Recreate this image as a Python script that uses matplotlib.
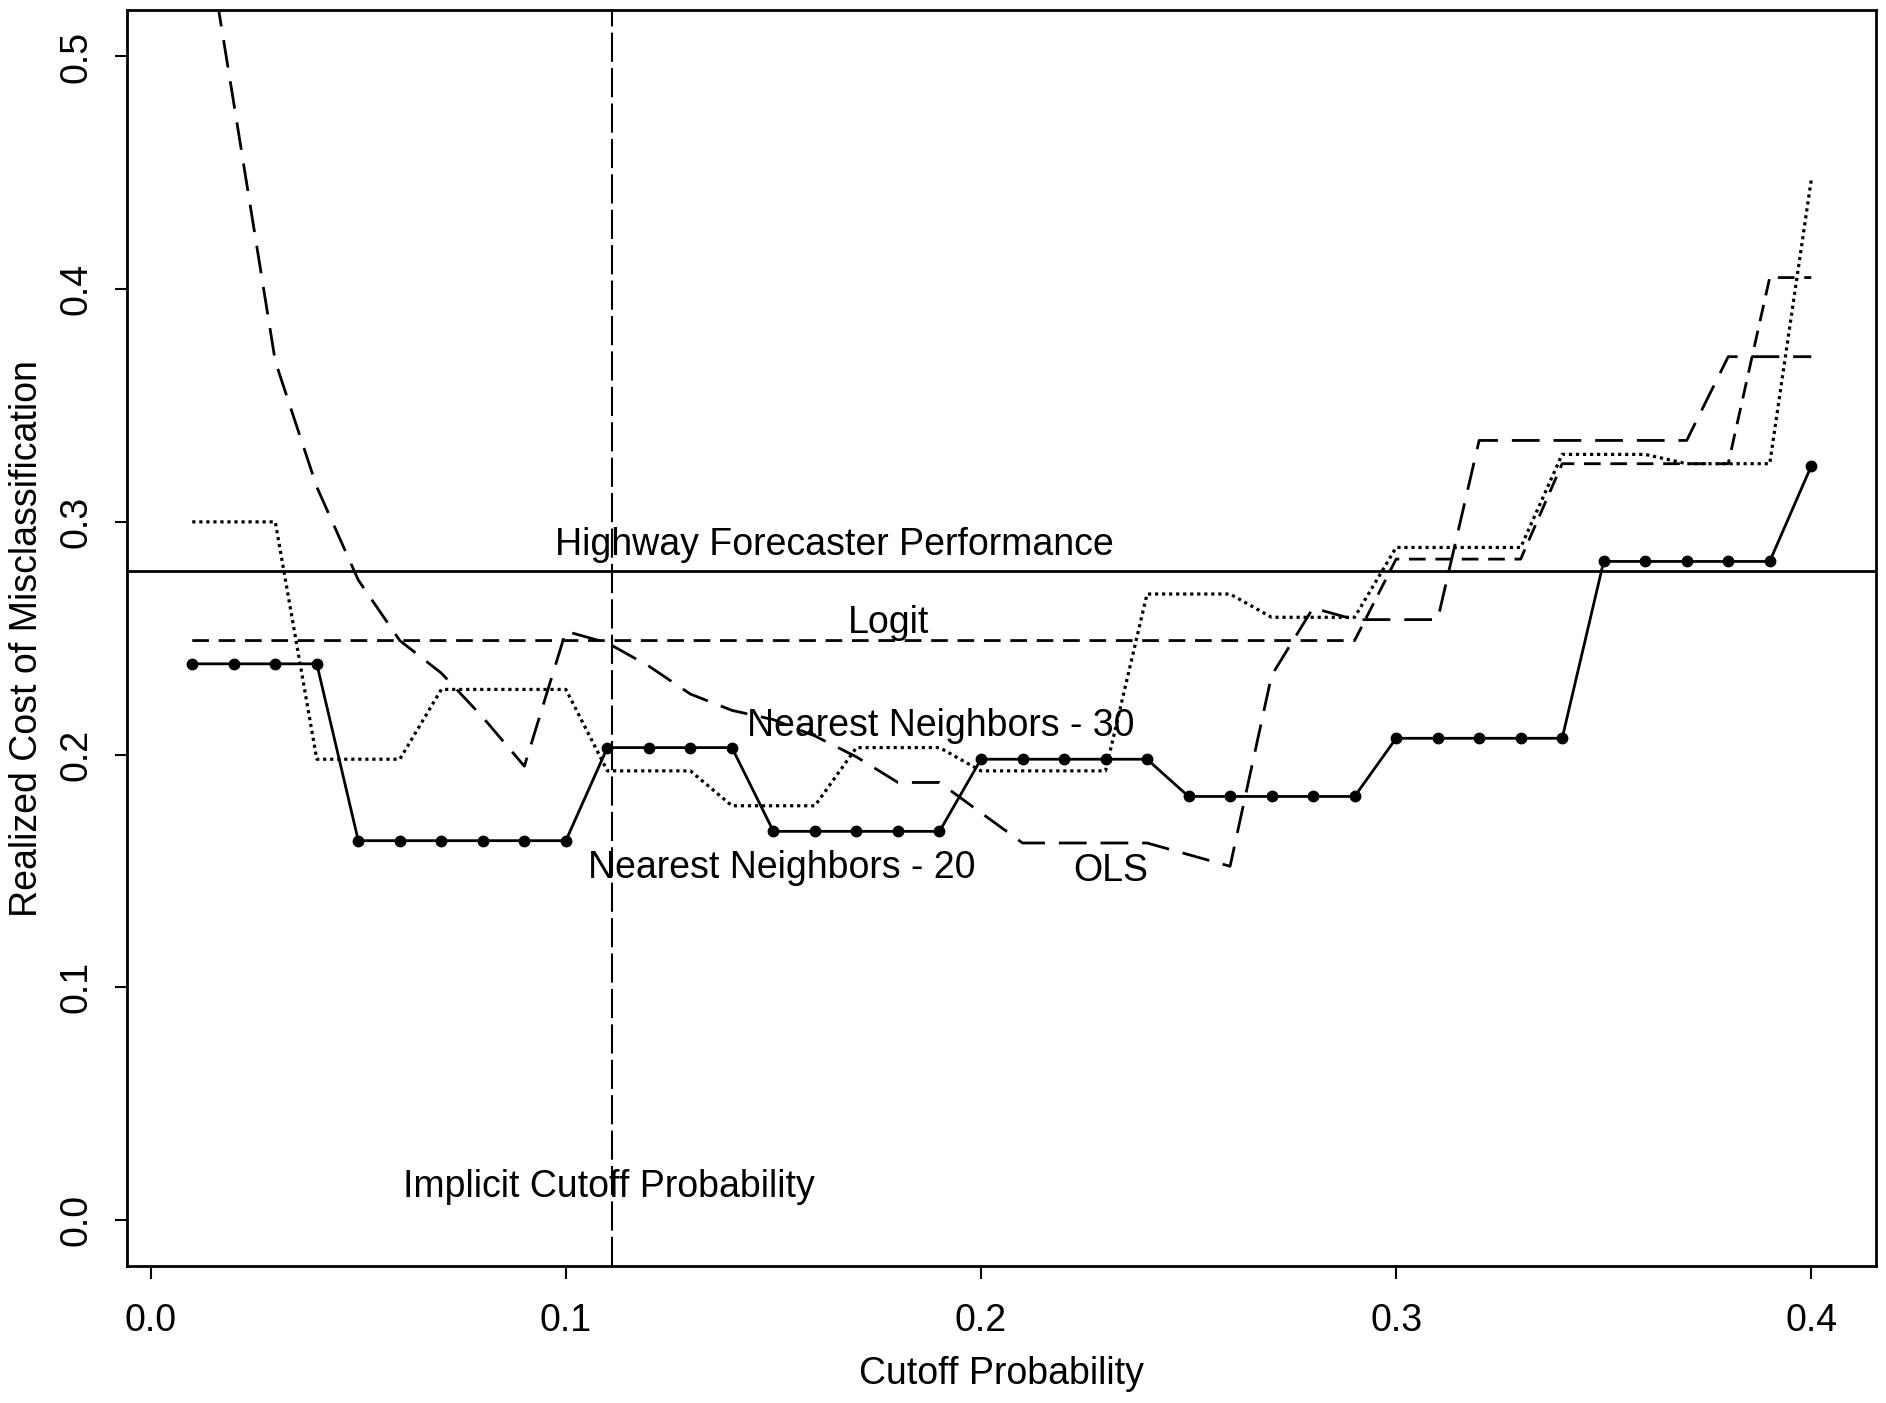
import matplotlib
matplotlib.use("Agg")
import matplotlib.pyplot as plt

plt.rcParams["font.family"] = ["Liberation Sans", "DejaVu Sans"]

# cutoff probabilities (x) and realized costs
cutoff = [0.01, 0.02, 0.03, 0.04, 0.05, 0.06, 0.07, 0.08, 0.09, 0.10,
          0.11, 0.12, 0.13, 0.14, 0.15, 0.16, 0.17, 0.18, 0.19, 0.20,
          0.21, 0.22, 0.23, 0.24, 0.25, 0.26, 0.27, 0.28, 0.29, 0.30,
          0.31, 0.32, 0.33, 0.34, 0.35, 0.36, 0.37, 0.38, 0.39, 0.40]

nn20 = [0.239, 0.239, 0.239, 0.239, 0.163, 0.163, 0.163, 0.163, 0.163, 0.163,
        0.203, 0.203, 0.203, 0.203, 0.167, 0.167, 0.167, 0.167, 0.167, 0.198,
        0.198, 0.198, 0.198, 0.198, 0.182, 0.182, 0.182, 0.182, 0.182, 0.207,
        0.207, 0.207, 0.207, 0.207, 0.283, 0.283, 0.283, 0.283, 0.283, 0.324]

nn30 = [0.300, 0.300, 0.300, 0.198, 0.198, 0.198, 0.228, 0.228, 0.228, 0.228,
        0.193, 0.193, 0.193, 0.178, 0.178, 0.178, 0.203, 0.203, 0.203, 0.193,
        0.193, 0.193, 0.193, 0.269, 0.269, 0.269, 0.259, 0.259, 0.259, 0.289,
        0.289, 0.289, 0.289, 0.329, 0.329, 0.329, 0.325, 0.325, 0.325, 0.447]

logit = [0.249, 0.249, 0.249, 0.249, 0.249, 0.249, 0.249, 0.249, 0.249, 0.249,
         0.249, 0.249, 0.249, 0.249, 0.249, 0.249, 0.249, 0.249, 0.249, 0.249,
         0.249, 0.249, 0.249, 0.249, 0.249, 0.249, 0.249, 0.249, 0.249, 0.284,
         0.284, 0.284, 0.284, 0.325, 0.325, 0.325, 0.325, 0.325, 0.405, 0.405]

ols = [0.590, 0.480, 0.369, 0.315, 0.275, 0.249, 0.235, 0.216, 0.195, 0.253,
       0.248, 0.238, 0.226, 0.219, 0.215, 0.208, 0.199, 0.188, 0.188, 0.175,
       0.162, 0.162, 0.162, 0.162, 0.157, 0.152, 0.234, 0.263, 0.258, 0.258,
       0.258, 0.335, 0.335, 0.335, 0.335, 0.335, 0.335, 0.371, 0.371, 0.371]

highway_cost = 0.279
implicit_cutoff = 0.111

xticks = [0.0, 0.1, 0.2, 0.3, 0.4]
yticks = [0.0, 0.1, 0.2, 0.3, 0.4, 0.5]

fs = 27

fig = plt.figure(figsize=(18.86, 14.03), dpi=100)
ax = fig.add_axes([0.0676, 0.0973, 0.9271, 0.8956])

ax.axhline(highway_cost, color="black", lw=2.0)
ax.axvline(implicit_cutoff, color="black", lw=1.5, linestyle=(0, (14, 3)))

ax.plot(cutoff, logit, color="black", lw=2.0, linestyle=(0, (6, 3.5)))
ax.plot(cutoff, ols, color="black", lw=2.0, linestyle=(0, (10, 5)))
ax.plot(cutoff, nn30, color="black", lw=2.3, linestyle=(0, (1.0, 1.2)))
ax.plot(cutoff, nn20, color="black", lw=2.0, marker="o", markersize=7.5)

ax.text(0.1647, 0.2859, "Highway Forecaster Performance", fontsize=fs, ha="center", va="baseline")
ax.text(0.1777, 0.2523, "Logit", fontsize=fs, ha="center", va="baseline")
ax.text(0.1902, 0.2078, "Nearest Neighbors - 30", fontsize=fs, ha="center", va="baseline")
ax.text(0.1521, 0.1470, "Nearest Neighbors - 20", fontsize=fs, ha="center", va="baseline")
ax.text(0.2313, 0.1455, "OLS", fontsize=fs, ha="center", va="baseline")
ax.text(0.1103, 0.0098, "Implicit Cutoff Probability", fontsize=fs, ha="center", va="baseline")

ax.set_xlim(-0.0056, 0.4156)
ax.set_ylim(-0.02, 0.52)
ax.set_xticks(xticks)
ax.set_xticklabels(["0.0", "0.1", "0.2", "0.3", "0.4"])
ax.set_yticks(yticks)
ax.set_yticklabels(["0.0", "0.1", "0.2", "0.3", "0.4", "0.5"], rotation=90, va="center")
ax.tick_params(direction="out", length=9, width=1.5, labelsize=fs)
ax.tick_params(axis="x", pad=17)
ax.tick_params(axis="y", pad=15)

for sp in ax.spines.values():
    sp.set_linewidth(2.0)

ax.set_xlabel("Cutoff Probability", fontsize=fs)
ax.set_ylabel("Realized Cost of Misclassification", fontsize=fs)
ax.xaxis.set_label_coords(0.5, -0.071)
ax.yaxis.set_label_coords(-0.047, 0.5)

fig.savefig("out.png", dpi=100)
